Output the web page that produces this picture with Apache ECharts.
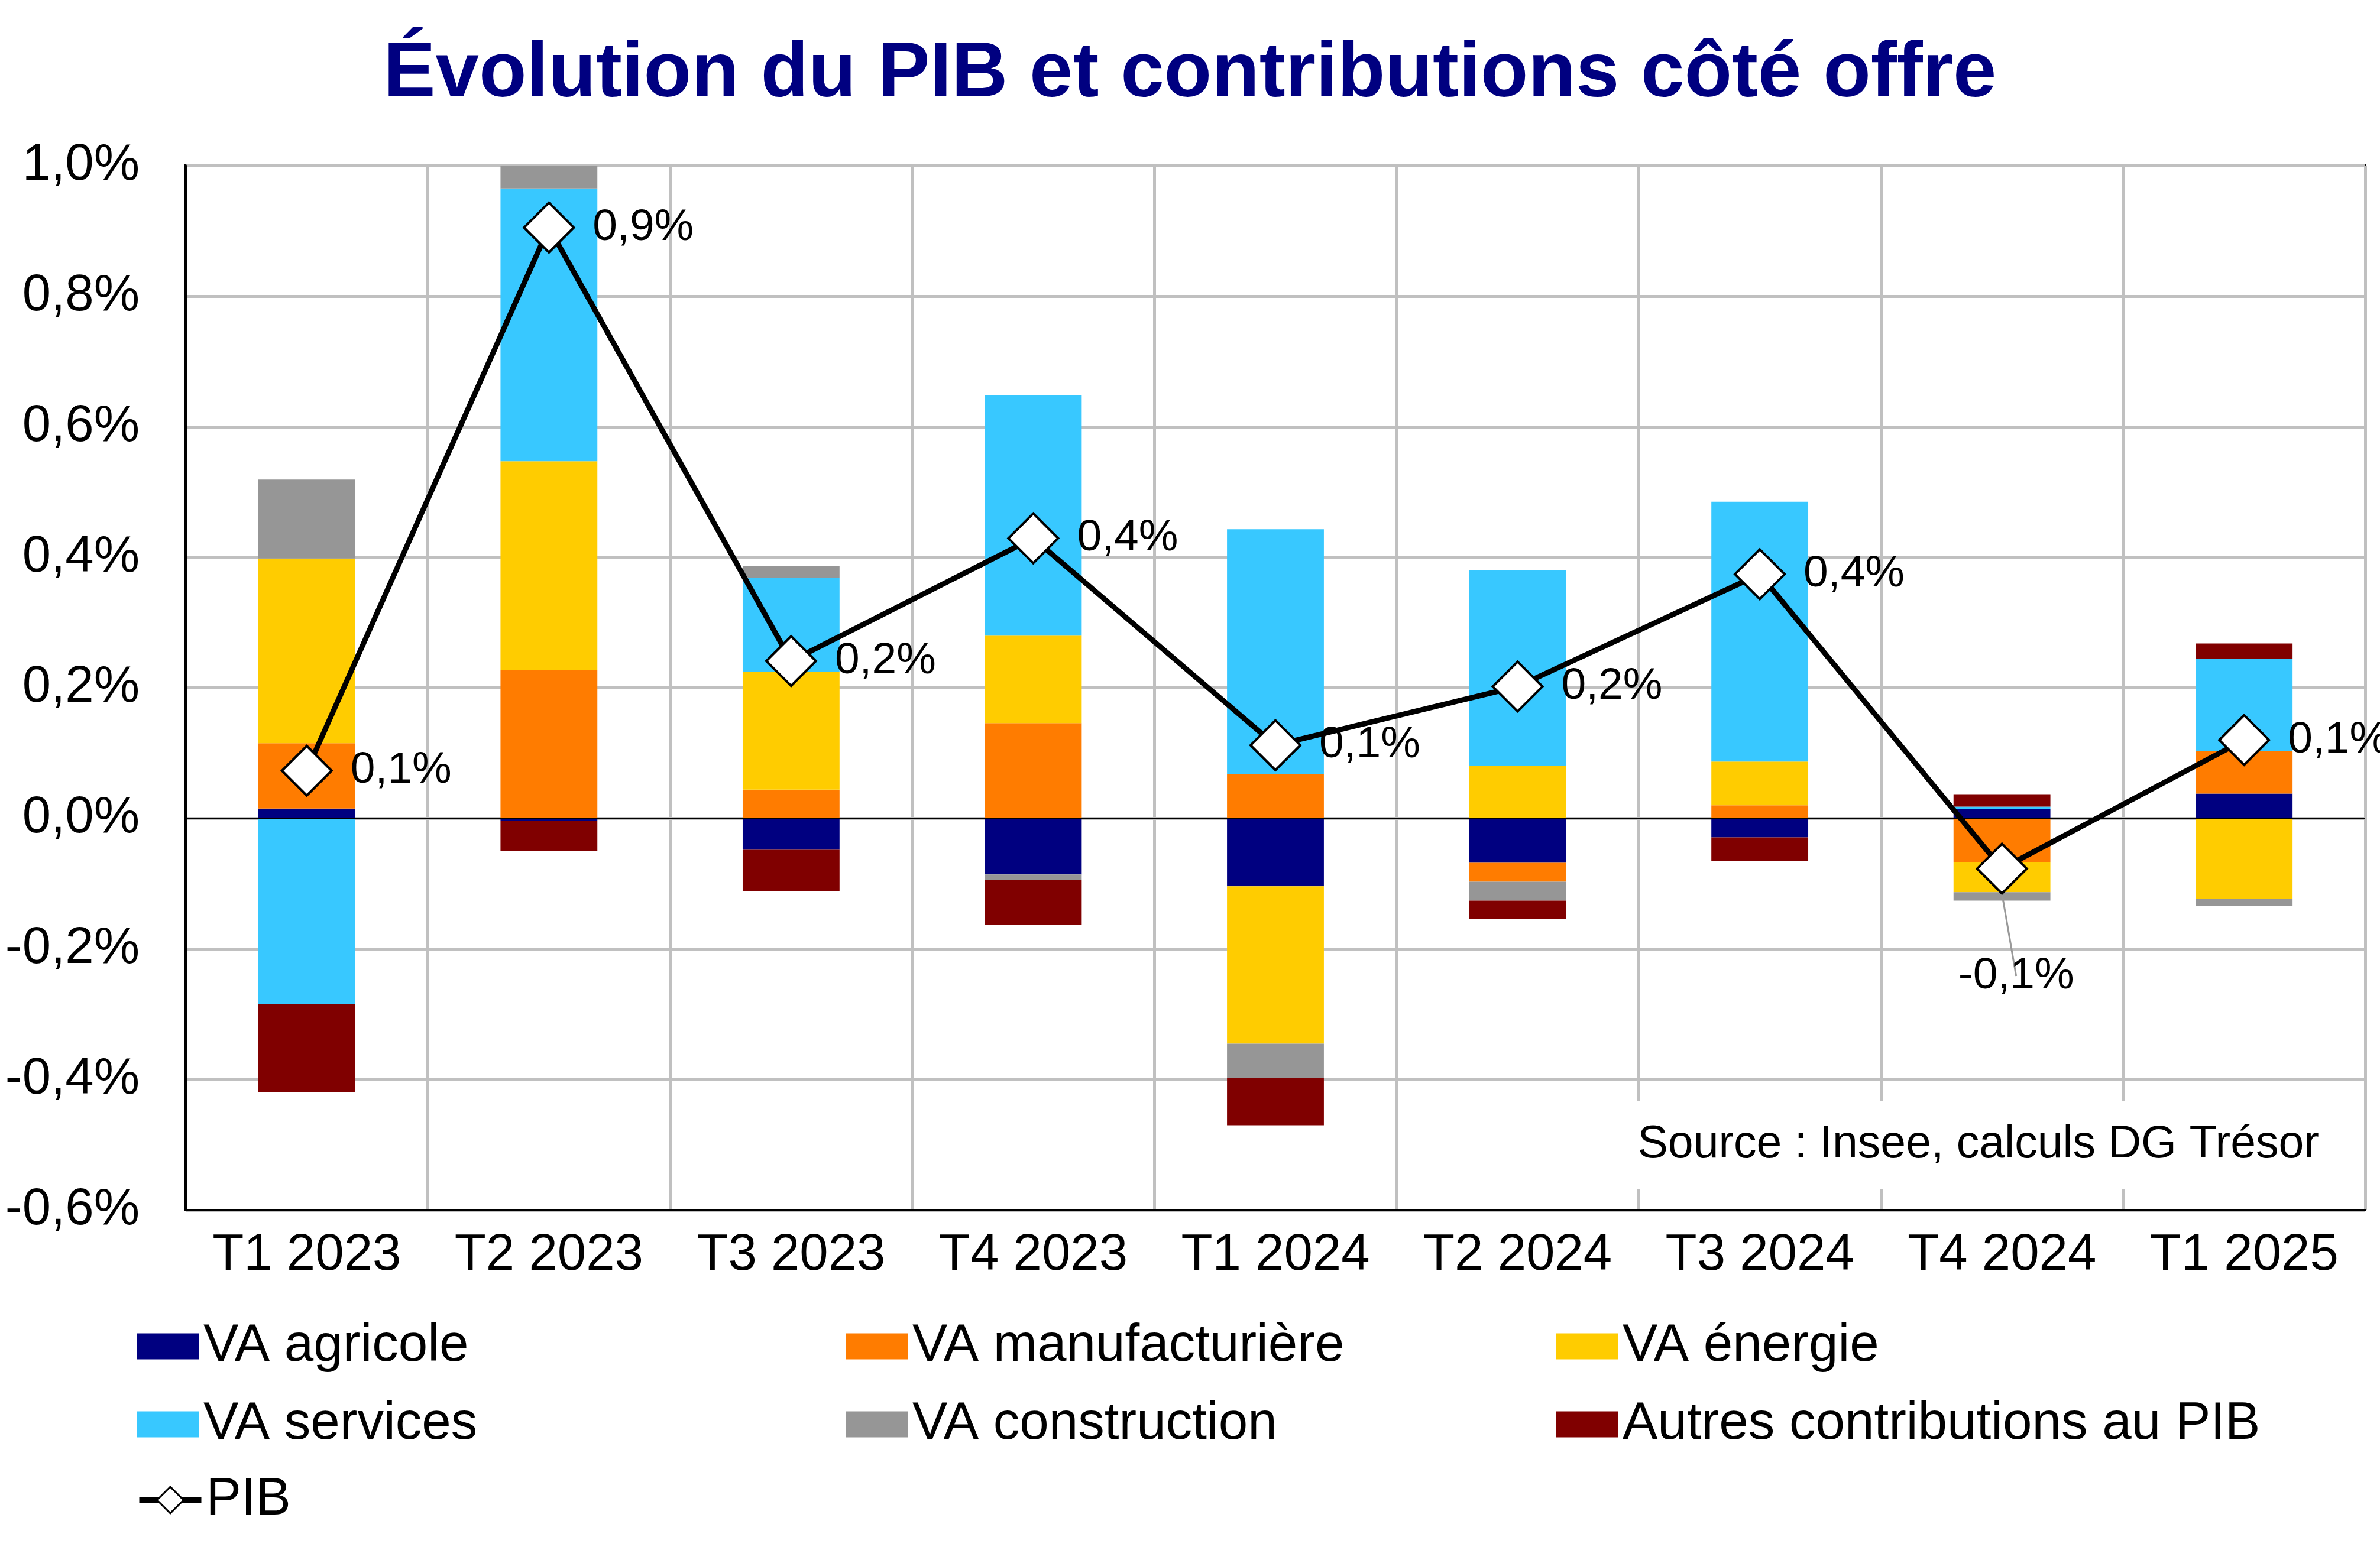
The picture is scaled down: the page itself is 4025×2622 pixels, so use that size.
<!DOCTYPE html>
<html>
<head>
<meta charset="utf-8">
<script src="https://cdn.jsdelivr.net/npm/echarts@6/dist/echarts.min.js"></script>
<style>
html,body{margin:0;padding:0;background:#fff;}
#chart{width:4025px;height:2622px;}
</style>
</head>
<body>
<div id="chart"></div>
<script>
const categories = ['T1 2023','T2 2023','T3 2023','T4 2023','T1 2024','T2 2024','T3 2024','T4 2024','T1 2025'];
const vaAgricole = [0.015, -0.004, -0.048, -0.086, -0.104, -0.068, -0.029, 0.014, 0.038];
const vaManufacturiere = [0.100, 0.227, 0.044, 0.146, 0.068, -0.029, 0.020, -0.067, 0.065];
const vaEnergie = [0.283, 0.320, 0.180, 0.134, -0.241, 0.080, 0.067, -0.046, -0.123];
const vaServices = [-0.285, 0.418, 0.144, 0.368, 0.375, 0.300, 0.398, 0.004, 0.141];
const vaConstruction = [0.121, 0.035, 0.019, -0.008, -0.053, -0.029, 0.000, -0.013, -0.011];
const autres = [-0.134, -0.046, -0.064, -0.069, -0.072, -0.028, -0.036, 0.019, 0.024];
const pib = [0.073, 0.905, 0.241, 0.429, 0.112, 0.202, 0.374, -0.077, 0.120];
const seriesNames = ['VA agricole','VA manufacturière','VA énergie','VA services','VA construction','Autres contributions au PIB','PIB'];
const seriesColors = ['#000080','#ff7c00','#ffcc00','#38c8ff','#969696','#800000'];
const sourceText = 'Source : Insee, calculs DG Trésor';
const titleText = 'Évolution du PIB et contributions côté offre';

const FONT = 'Liberation Sans, Arial, sans-serif';
function fmtPct(v){
  let r = Math.round(v*10)/10;
  if (Math.abs(r) < 1e-9) r = 0;
  return r.toFixed(1).replace('.', ',') + '%';
}

const barData = [vaAgricole, vaManufacturiere, vaEnergie, vaServices, vaConstruction, autres];
const series = barData.map((d, i) => {
  const s = {
    name: seriesNames[i],
    type: 'bar',
    stack: 'total',
    barWidth: '40%',
    itemStyle: {color: seriesColors[i]},
    data: d,
    z: 2
  };
  if (i === 0) {
    s.markLine = {
      silent: true,
      symbol: ['none','none'],
      label: {show: false},
      lineStyle: {color: '#000', width: 3, type: 'solid'},
      data: [{yAxis: 0}],
      z: 3
    };
  }
  return s;
});
series.push({
  name: 'PIB',
  type: 'line',
  z: 5,
  symbol: 'diamond',
  symbolSize: 84,
  lineStyle: {color: '#000', width: 9},
  itemStyle: {color: '#fff', borderColor: '#000', borderWidth: 4},
  label: {
    show: true, position: 'right', distance: 30,
    fontSize: 75, fontFamily: FONT, color: '#000',
    formatter: p => fmtPct(p.value)
  },
  labelLine: {show: false},
  data: pib.map((v, i) => {
    if (v < 0) {
      return {
        value: v,
        label: {position: 'bottom', distance: 100, offset: [24, 0]},
        labelLine: {show: true, lineStyle: {color: '#999999', width: 3}}
      };
    }
    return v;
  })
});

const legendText = {fontSize: 89, fontFamily: FONT, color: '#000', lineHeight: 87, padding: [0,0,0,3]};
function mkLegend(left, top, names, itemHeight){
  return {
    orient: 'vertical', left: left, top: top,
    itemWidth: 105, itemHeight: itemHeight, itemGap: 43,
    textStyle: legendText,
    lineStyle: {width: 9, color: '#000'},
    itemStyle: {borderWidth: 3},
    data: names.map(n => n === 'PIB' ? {name: n} : {name: n, icon: 'rect', itemStyle: {borderWidth: 0}}),
    selectedMode: false
  };
}

const chart = echarts.init(document.getElementById('chart'));
chart.setOption({
  backgroundColor: '#fff',
  animation: false,
  title: [{
    text: titleText, left: 'center', top: 56,
    textStyle: {fontSize: 132, fontWeight: 'bold', color: '#000080', fontFamily: FONT, lineHeight: 132}
  }, {
    text: sourceText, right: 93, top: 1862,
    padding: [35, 10], backgroundColor: '#fff',
    textStyle: {fontSize: 77, fontWeight: 'normal', color: '#000', fontFamily: FONT, lineHeight: 80}
  }],
  legend: [
    mkLegend(226, 2228, [seriesNames[0], seriesNames[3]], 44),
    mkLegend(226, 2488, [seriesNames[6]], 56),
    mkLegend(1425, 2228, [seriesNames[1], seriesNames[4]], 44),
    mkLegend(2626, 2228, [seriesNames[2], seriesNames[5]], 44)
  ],
  grid: {left: 314, right: 25, top: 280, bottom: 575, show: true, borderColor: '#000', borderWidth: 4, backgroundColor: 'transparent'},
  xAxis: {
    type: 'category', data: categories, boundaryGap: true,
    axisLine: {onZero: false, lineStyle: {color: '#000', width: 4}},
    axisTick: {show: false},
    axisLabel: {fontSize: 87, fontFamily: FONT, color: '#000', margin: 34, interval: 0},
    splitLine: {show: true, interval: 0, lineStyle: {color: '#c0c0c0', width: 5}}
  },
  yAxis: {
    type: 'value', min: -0.6, max: 1.0, interval: 0.2,
    axisLine: {show: true, lineStyle: {color: '#000', width: 4}},
    axisTick: {show: false},
    axisLabel: {fontSize: 87, fontFamily: FONT, color: '#000', margin: 78, formatter: v => fmtPct(v)},
    splitLine: {show: true, lineStyle: {color: '#c0c0c0', width: 5}}
  },
  series: series
});
</script>
</body>
</html>
